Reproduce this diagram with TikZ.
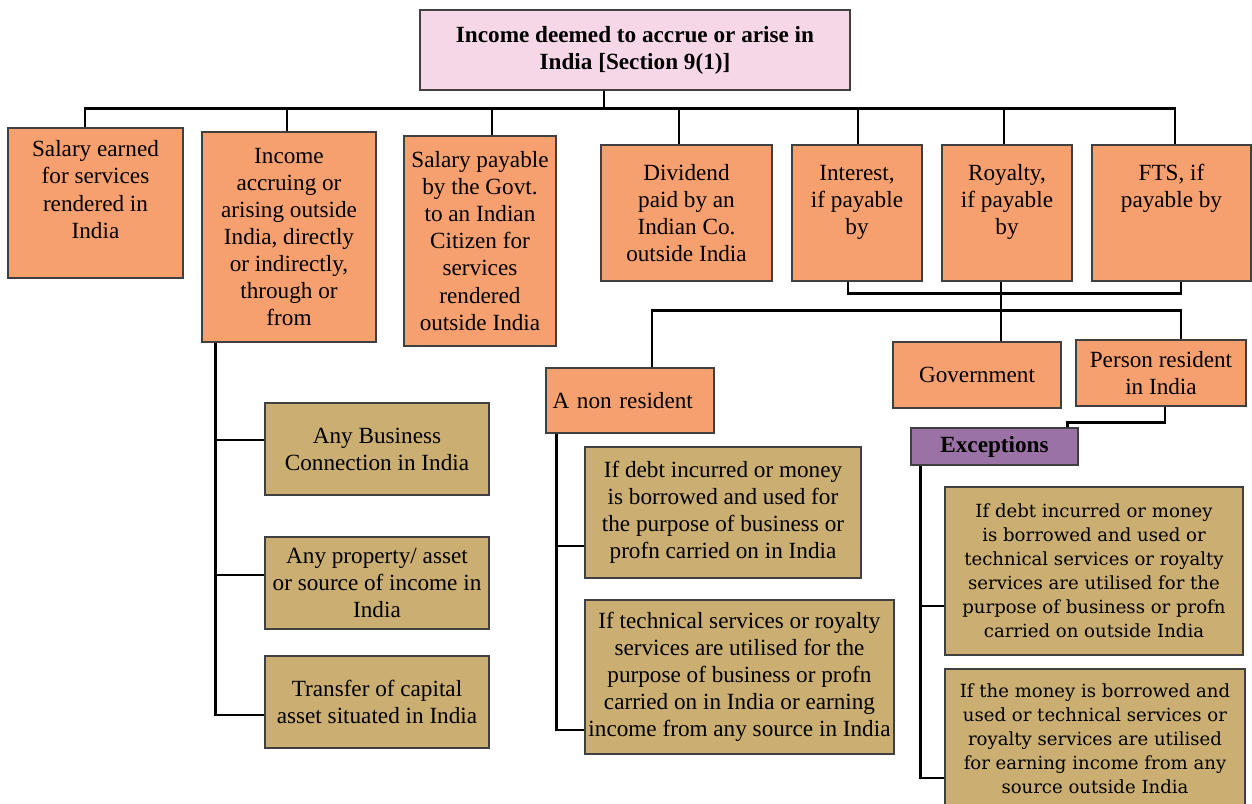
\documentclass[tikz,border=0pt]{standalone}
\usepackage{fontspec}
\setmainfont{Liberation Serif}
\newfontfamily\exfont{DejaVu Serif}
\definecolor{boxorange}{RGB}{247,160,111}
\definecolor{boxtan}{RGB}{203,174,114}
\definecolor{boxpink}{RGB}{246,215,232}
\definecolor{boxpurple}{RGB}{155,114,165}

\begin{document}
\begin{tikzpicture}[x=0.02cm, y=-0.02cm,
  box/.style={draw=black!75, line width=0.8pt, align=center, inner sep=2pt,
    font=\fontsize{13.2}{15.4}\selectfont},
  orangebox/.style={box, fill=boxorange},
  tanbox/.style={box, fill=boxtan},
  exbox/.style={tanbox, font=\exfont\fontsize{10.3}{13.7}\selectfont},
  link/.style={line width=1.6pt}]
\useasboundingbox (0,0) rectangle (1252,804);

% heading
\node[box, fill=boxpink, minimum width=8.6cm, minimum height=1.6cm,
  font=\bfseries\fontsize{13.2}{15.4}\selectfont] (top) at (635,50)
  {Income deemed to accrue or arise in\\ India [Section 9(1)]};

% first row
\node[orangebox, minimum width=3.5cm, minimum height=3cm] (salin) at (95.5,203)
  {Salary earned\\ for services\\ rendered in\\ India\\ ~};
\node[orangebox, minimum width=3.48cm, minimum height=4.2cm] (outside) at (289,237)
  {Income\\ accruing or\\ arising outside\\ India, directly\\ or indirectly,\\ through or\\ from};
\node[orangebox, minimum width=3.04cm, minimum height=4.2cm] (govsal) at (480,241)
  {Salary payable\\ by the Govt.\\ to an Indian\\ Citizen for\\ services\\ rendered\\ outside India};
\node[orangebox, minimum width=3.42cm, minimum height=2.72cm] (divid) at (686.5,213)
  {Dividend\\ paid by an\\ Indian Co.\\ outside India};
\node[orangebox, minimum width=2.6cm, minimum height=2.72cm] (interest) at (857,213)
  {Interest,\\ if payable\\ by\\ ~};
\node[orangebox, minimum width=2.6cm, minimum height=2.72cm] (royalty) at (1007,213)
  {Royalty,\\ if payable\\ by\\ ~};
\node[orangebox, minimum width=3.18cm, minimum height=2.72cm] (fts) at (1171.5,213)
  {FTS, if\\ payable by\\ ~\\ ~};

% payers
\node[orangebox, minimum width=3.36cm, minimum height=1.32cm] (govt) at (977,375) {Government};
\node[orangebox, minimum width=3.4cm, minimum height=1.32cm] (resident) at (1161,373)
  {Person resident\\ in India};
\node[orangebox, minimum width=3.36cm, minimum height=1.3cm, text width=3.1cm, align=left]
  (nonres) at (630,400.5) {A non resident};
\node[box, fill=boxpurple, minimum width=3.34cm, minimum height=0.74cm,
  font=\bfseries\fontsize{13.2}{15.4}\selectfont] (except) at (994.5,446.5) {Exceptions};

% outside India
\node[tanbox, minimum width=4.48cm, minimum height=1.84cm] (bizconn) at (377,449)
  {Any Business\\ Connection in India};
\node[tanbox, minimum width=4.48cm, minimum height=1.84cm] (property) at (377,583)
  {Any property/ asset\\ or source of income in\\ India};
\node[tanbox, minimum width=4.48cm, minimum height=1.84cm] (capital) at (377,702)
  {Transfer of capital\\ asset situated in India};

% non resident
\node[tanbox, minimum width=5.52cm, minimum height=2.62cm] (nrdebt) at (723,512.5)
  {If debt incurred or money\\ is borrowed and used for\\ the purpose of business or\\ profn carried on in India};
\node[tanbox, minimum width=6.06cm, minimum height=3.08cm] (nrtech) at (739.5,677)
  {If technical services or royalty\\ services are utilised for the\\ purpose of business or profn\\ carried on in India or earning\\ income from any source in India};

% exceptions
\node[exbox, minimum width=5.96cm, minimum height=3.36cm] (exdebt) at (1094,571)
  {If debt incurred or money\\ is borrowed and used or\\ technical services or royalty\\ services are utilised for the\\ purpose of business or profn\\ carried on outside India};
\node[exbox, minimum width=6cm, minimum height=2.78cm] (exmoney) at (1095,738.5)
  {If the money is borrowed and\\ used or technical services or\\ royalty services are utilised\\ for earning income from any\\ source outside India};

% connectors
\foreach \n/\dx in {salin/-0.21, outside/-0.04, govsal/0.24, divid/-0.15,
    interest/0.02, royalty/-0.06, fts/0.07}
  \draw[link] ([xshift=-0.62cm]top.south) -- ++(0,18) -| ([xshift=\dx cm]\n.north);
\draw[link] ([xshift=-0.18cm]interest.south) -- ++(0,12) -| ([xshift=0.19cm]fts.south);
\draw[link] ([xshift=-0.12cm]royalty.south) -- ([xshift=-0.12cm]royalty.south |- govt.north);
\path ([xshift=-0.12cm]royalty.south) ++(0,29) coordinate (split);
\draw[link] ([xshift=0.44cm]nonres.north) |- (split) -| ([xshift=0.4cm]resident.north);
\draw[link] ([xshift=0.08cm]resident.south) -- ++(0,16) -| ([xshift=-0.22cm]except.north east);

\draw[link] ([xshift=0.28cm]outside.south west) |- ([yshift=-0.26cm]capital.west);
\draw[link] ([xshift=0.28cm]outside.south west) |- ([yshift=0.16cm]property.west);
\draw[link] ([xshift=0.28cm]outside.south west) |- ([yshift=0.18cm]bizconn.west);

\draw[link] ([xshift=0.22cm]nonres.south west) |- ([yshift=-1.06cm]nrtech.west);
\draw[link] ([xshift=0.22cm]nonres.south west) |- ([yshift=-0.67cm]nrdebt.west);

\draw[link] ([xshift=0.2cm]except.south west) |- ([yshift=-0.79cm]exmoney.west);
\draw[link] ([xshift=0.2cm]except.south west) |- ([yshift=-0.7cm]exdebt.west);
\end{tikzpicture}
\end{document}
